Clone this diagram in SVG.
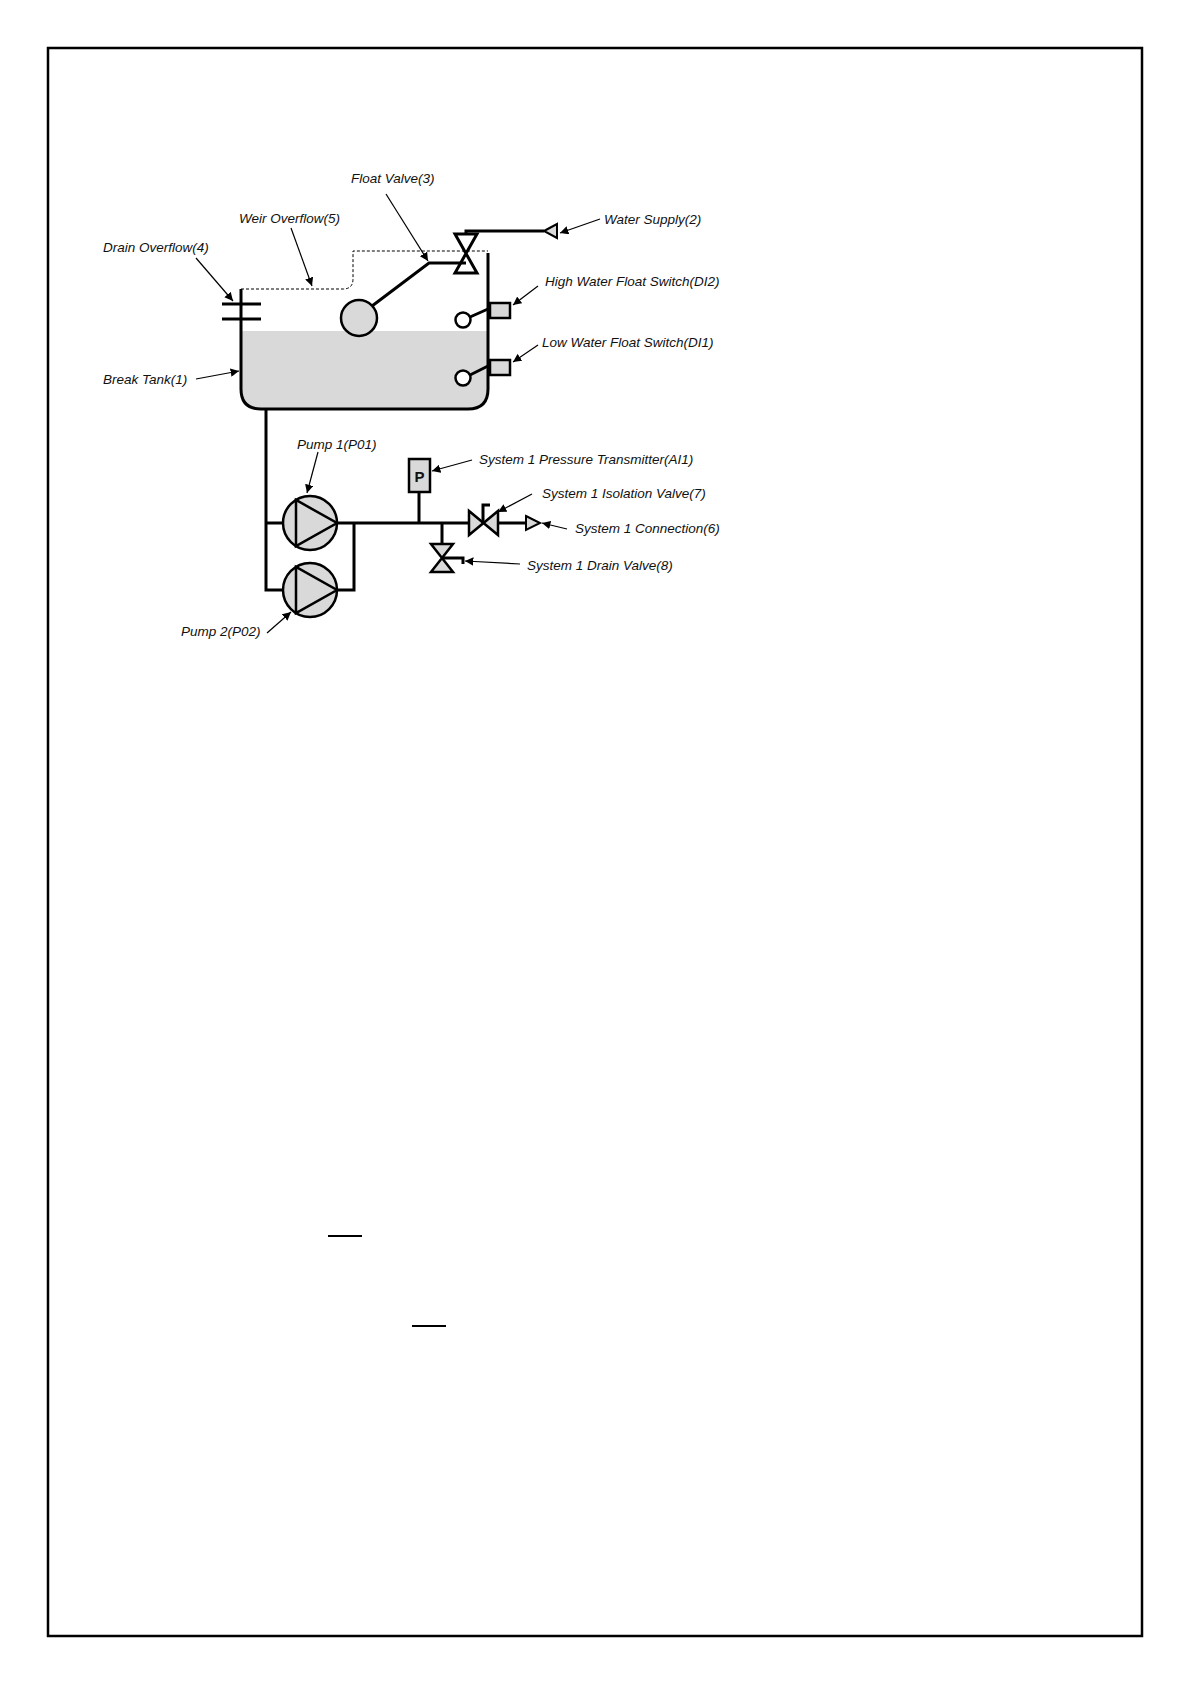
<svg xmlns="http://www.w3.org/2000/svg" width="1191" height="1684" viewBox="0 0 1191 1684">
<defs>
<marker id="ah" viewBox="0 0 10 10" refX="10" refY="5" markerWidth="7" markerHeight="7" orient="auto"><path d="M0,0 L10,5 L0,10 z" fill="#000"/></marker>
<style>
.p{fill:none;stroke:#000;stroke-width:3}
.g{fill:#d9d9d9;stroke:#000;stroke-width:2.5}
.l{fill:none;stroke:#000;stroke-width:1.2;marker-end:url(#ah)}
text{font-family:"Liberation Sans",Arial,sans-serif;font-style:italic;font-size:13.5px;fill:#111}
</style>
</defs>
<rect x="48" y="48" width="1094" height="1588" fill="none" stroke="#000" stroke-width="2.5"/>
<g id="tank">
<path d="M241,331 H488 V389 Q488,409 468,409 H261 Q241,409 241,389 Z" fill="#d9d9d9"/>
<path class="p" d="M241,289 V389 Q241,409 261,409 H468 Q488,409 488,389 V253"/>
</g>
<g id="drain-overflow"><path class="p" d="M222,304 H261 M222,319 H261"/></g>
<g id="weir"><path d="M241,289 H343 Q353,289 353,279 V251 H488" fill="none" stroke="#000" stroke-width="1" stroke-dasharray="3,2"/></g>
<g id="float-valve">
<path class="p" d="M455,234 L477,234 L455,273 L477,273 Z"/>
<path class="p" d="M466,234 V231 H544"/>
<circle cx="359" cy="318" r="18" fill="#d9d9d9" stroke="#000" stroke-width="2.5"/>
<path class="p" d="M372,306 L429,263 H466"/>
</g>
<g id="water-supply"><path d="M544,231 L557,224 L557,238 Z" fill="#d9d9d9" stroke="#000" stroke-width="2"/></g>
<g id="high-switch"><rect x="490" y="303" width="20" height="15" class="g"/><circle cx="463" cy="320" r="7.5" fill="#fff" stroke="#000" stroke-width="2.5"/><path class="p" d="M470,317 L488,309"/></g>
<g id="low-switch"><rect x="490" y="360" width="20" height="15" class="g"/><circle cx="463" cy="378" r="7.5" fill="#fff" stroke="#000" stroke-width="2.5"/><path class="p" d="M470,375 L488,366"/></g>
<g id="pipes">
<path class="p" d="M266,409 V590 H283 M266,523 H283 M337,523 H469 M337,590 H354 V523 M419,492 V523 M442,523 V544 M498,523 H526"/>
</g>
<g id="pump1"><circle cx="310" cy="523" r="27" class="g"/><path class="g" d="M296,500 L296,546 L337,523 Z"/></g>
<g id="pump2"><circle cx="310" cy="590" r="27" class="g"/><path class="g" d="M296,567 L296,613 L337,590 Z"/></g>
<g id="pt"><rect x="409" y="459" width="21" height="33" class="g"/><text x="419.5" y="482" text-anchor="middle" style="font-style:normal;font-weight:bold;font-size:15px">P</text></g>
<g id="iso-valve"><path class="g" d="M469,511 L469,535 L498,511 L498,535 Z"/><path class="p" d="M483,523 V505 H490"/></g>
<g id="connection"><path d="M526,516 L540,523 L526,530 Z" fill="#d9d9d9" stroke="#000" stroke-width="2"/></g>
<g id="drain-valve"><path class="g" d="M431,544 L453,544 L431,572 L453,572 Z"/><path class="p" d="M442,558 H463 V564"/></g>
<g id="leaders">
<path class="l" d="M386,194 L428,261"/>
<path class="l" d="M291,228 L312,286"/>
<path class="l" d="M196,258 L233,301"/>
<path class="l" d="M600,219 L560,233"/>
<path class="l" d="M538,286 L513,305"/>
<path class="l" d="M538,345 L513,362"/>
<path class="l" d="M196,379 L239,371"/>
<path class="l" d="M318,452 L307,493"/>
<path class="l" d="M267,633 L291,612"/>
<path class="l" d="M472,460 L432,471"/>
<path class="l" d="M532,494 L498,512"/>
<path class="l" d="M567,529 L542,523"/>
<path class="l" d="M520,564 L465,561"/>
</g>
<g id="labels">
<text x="351" y="183">Float Valve(3)</text>
<text x="239" y="223">Weir Overflow(5)</text>
<text x="103" y="252">Drain Overflow(4)</text>
<text x="604" y="224">Water Supply(2)</text>
<text x="545" y="286">High Water Float Switch(DI2)</text>
<text x="542" y="347">Low Water Float Switch(DI1)</text>
<text x="103" y="384">Break Tank(1)</text>
<text x="297" y="449">Pump 1(P01)</text>
<text x="479" y="464">System 1 Pressure Transmitter(AI1)</text>
<text x="542" y="498">System 1 Isolation Valve(7)</text>
<text x="575" y="533">System 1 Connection(6)</text>
<text x="527" y="570">System 1 Drain Valve(8)</text>
<text x="181" y="636">Pump 2(P02)</text>
</g>
<path d="M328,1236 H362 M412,1326 H446" stroke="#000" stroke-width="2"/>
</svg>
